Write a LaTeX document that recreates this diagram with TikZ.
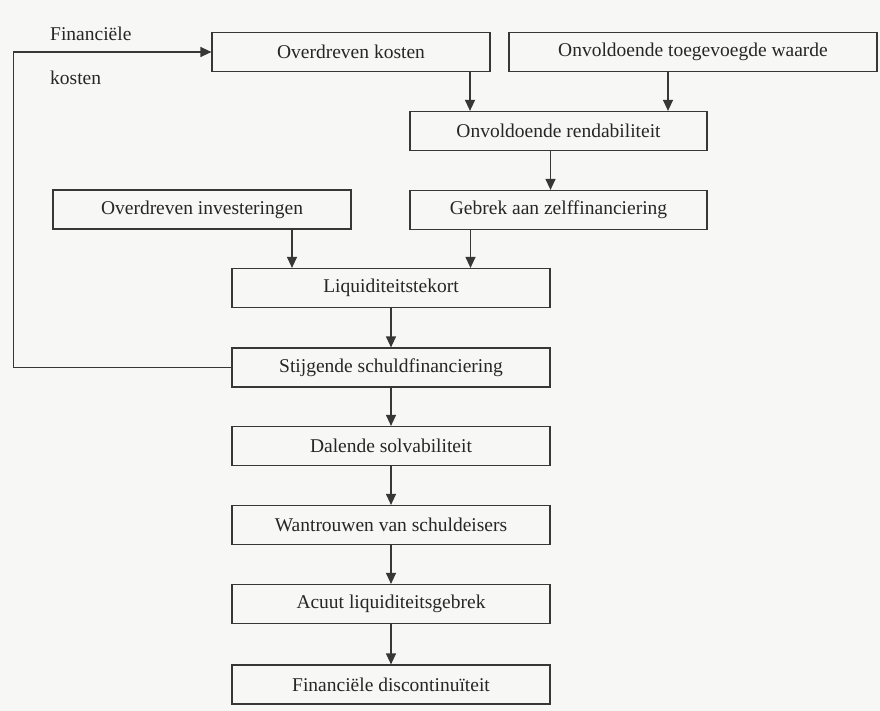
\documentclass[tikz,border=0pt]{standalone}
\usepackage{fontspec}
\setmainfont{Liberation Serif}
\usetikzlibrary{arrows.meta}
\definecolor{papier}{RGB}{247,247,245}
\definecolor{inkt}{RGB}{55,55,55}
\begin{document}
\begin{tikzpicture}[x=1pt,y=-1pt,
   font=\fontsize{19.5}{22}\selectfont,
   blok/.style={draw=inkt,line width=1.2pt,inner sep=0pt,minimum height=39pt,text=black!85},
   to/.style={-{Triangle[length=11pt,width=10pt]},draw=inkt,line width=1.2pt},
   label/.style={anchor=west,inner sep=0pt,text=black!85}]
\fill[papier] (0,0) rectangle (880,711);
\useasboundingbox (0,0) rectangle (880,711);
\node[blok,minimum width=278pt] (kosten) at (351,52) {Overdreven kosten};
\node[blok,minimum width=368pt] (waarde) at (693,52) {Onvoldoende toegevoegde waarde};
\node[blok,minimum width=297pt] (rendabiliteit) at (558.5,131) {Onvoldoende rendabiliteit};
\node[blok,minimum width=297pt] (zelffin) at (558.5,210) {Gebrek aan zelffinanciering};
\node[blok,minimum width=298pt] (investeringen) at (202,209.5) {Overdreven investeringen};
\node[blok,minimum width=318pt] (tekort) at (391,288) {Liquiditeitstekort};
\node[blok,minimum width=318pt] (schuld) at (391,367.5) {Stijgende schuldfinanciering};
\node[blok,minimum width=318pt] (solvab) at (391,446) {Dalende solvabiliteit};
\node[blok,minimum width=318pt] (wantrouwen) at (391,525) {Wantrouwen van schuldeisers};
\node[blok,minimum width=318pt] (acuut) at (391,604) {Acuut liquiditeitsgebrek};
\node[blok,minimum width=318pt] (discont) at (391,684.5) {Financiële discontinuïteit};
\node[label] (fin) at (50,34) {Financiële};
\node[label] (kost) at (50,78) {kosten};
% bovenste deel
\draw[to] ([xshift=119pt]kosten.south) -- ([xshift=119pt]kosten.south |- rendabiliteit.north);
\draw[to] ([xshift=-25pt]waarde.south) -- ([xshift=-25pt]waarde.south |- rendabiliteit.north);
\draw[to] ([xshift=-8pt]rendabiliteit.south) -- ([xshift=-8pt]rendabiliteit.south |- zelffin.north);
\draw[to] ([xshift=-88pt]zelffin.south) -- ([xshift=-88pt]zelffin.south |- tekort.north);
\draw[to] ([xshift=90pt]investeringen.south) -- ([xshift=90pt]investeringen.south |- tekort.north);
% keten
\draw[to] (tekort) -- (schuld);
\draw[to] (schuld) -- (solvab);
\draw[to] (solvab) -- (wantrouwen);
\draw[to] (wantrouwen) -- (acuut);
\draw[to] (acuut) -- (discont);
% terugkoppeling
\draw[to] (schuld.west) -- ++(-218,0) |- (kosten.west);
\end{tikzpicture}
\end{document}
